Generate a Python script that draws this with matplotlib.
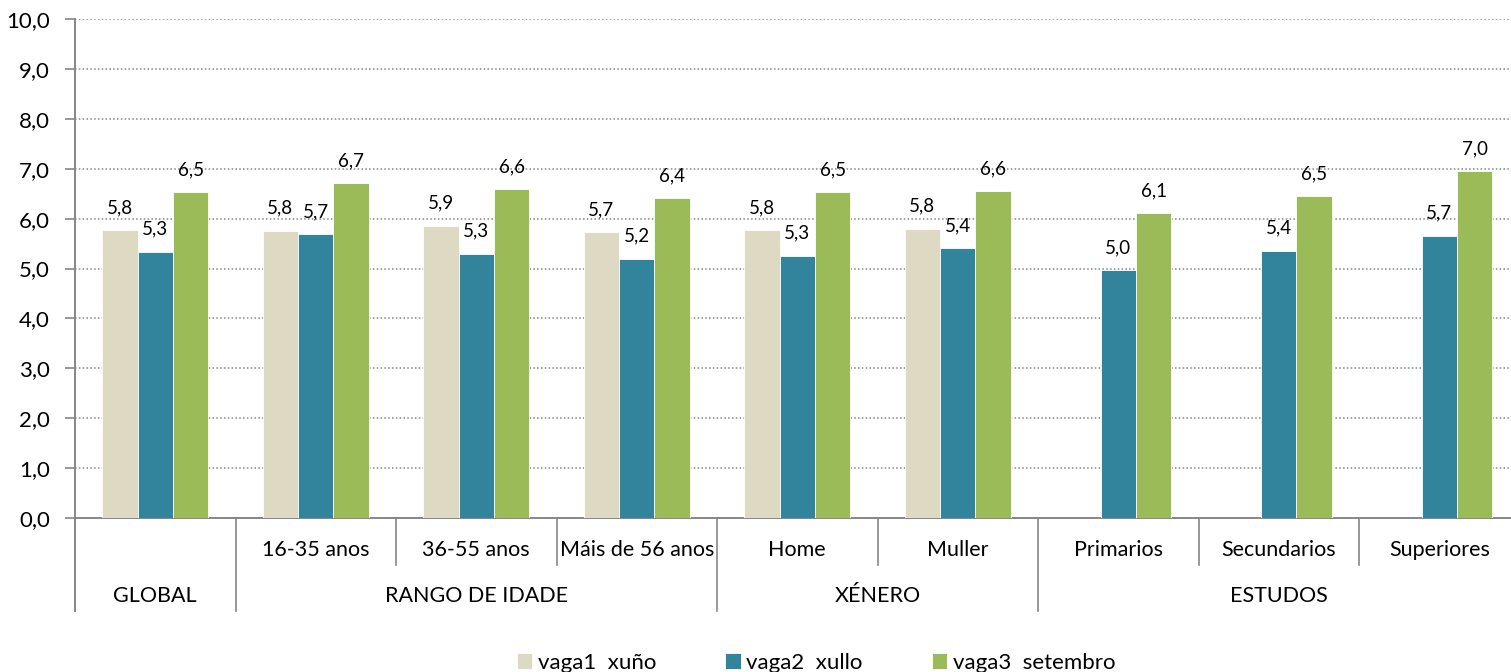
import matplotlib
matplotlib.use("Agg")
import matplotlib.pyplot as plt
import matplotlib.transforms as mtransforms
import numpy as np

# datos
categorias = ["", "16-35 anos", "36-55 anos", "Máis de 56 anos", "Home", "Muller",
              "Primarios", "Secundarios", "Superiores"]
grupos = ["GLOBAL", "RANGO DE IDADE", "XÉNERO", "ESTUDOS"]
grupo_inicio = [0, 1, 4, 6]
grupo_fin = [1, 4, 6, 9]

vaga1 = [5.77, 5.76, 5.86, 5.73, 5.77, 5.80, np.nan, np.nan, np.nan]
vaga2 = [5.34, 5.69, 5.30, 5.20, 5.26, 5.41, 4.97, 5.36, 5.66]
vaga3 = [6.54, 6.71, 6.59, 6.42, 6.54, 6.56, 6.11, 6.46, 6.96]
series = ["vaga1  xuño", "vaga2  xullo", "vaga3  setembro"]
cores = ["#DDD9C3", "#31849B", "#9BBB59"]

plt.rcParams['font.family'] = ['Lato', 'DejaVu Sans']
gris = "#868686"

fig = plt.figure(figsize=(15.11, 6.72), dpi=100)
ax = fig.add_axes([75 / 1511, 154 / 672, 1444.5 / 1511, 499 / 672])

x = np.arange(len(categorias))
w = 0.221
for i, (vals, nome, cor) in enumerate(zip([vaga1, vaga2, vaga3], series, cores)):
    pos = x + (i - 1) * w
    ax.bar(pos, vals, width=w, color=cor, label=nome, edgecolor="white", linewidth=0.6, zorder=3)
    for p, v in zip(pos, vals):
        if np.isnan(v):
            continue
        ax.annotate(("%.1f" % v).replace(".", ","), (p, v), xytext=(0, 16),
                    textcoords="offset points", ha="center", va="center", fontsize=13.5)

ax.set_ylim(0, 10)
ax.set_xlim(-0.5, len(categorias) - 0.5)
ax.set_yticks(np.arange(0, 11, 1))
ax.set_yticklabels([("%.1f" % t).replace(".", ",") for t in np.arange(0, 11, 1)], fontsize=16)
ax.yaxis.grid(True, linestyle=(0, (1, 1.5)), color=gris, linewidth=1.1, zorder=0)
ax.tick_params(axis="y", length=7, color=gris, width=1.2, pad=11)
ax.set_xticks([])

for s in ["top", "right"]:
    ax.spines[s].set_visible(False)
ax.spines["left"].set_color(gris)
ax.spines["left"].set_linewidth(1.4)
ax.spines["bottom"].set_color(gris)
ax.spines["bottom"].set_linewidth(1.4)

# eixo de categorías en dous niveis
trans = mtransforms.blended_transform_factory(ax.transData, ax.transAxes)
corto = -47 / 499
longo = -93 / 499
ax.plot([-0.5, -0.5], [0, longo], transform=trans, color=gris, lw=1.4, clip_on=False)
limites = [g - 0.5 for g in grupo_fin[:-1]]
for k in range(1, len(categorias)):
    b = k - 0.5
    y2 = longo if b in limites else corto
    ax.plot([b, b], [0, y2], transform=trans, color=gris, lw=1.2, clip_on=False)

for xi, cat in zip(x, categorias):
    ax.text(xi, -32 / 499, cat, transform=trans, ha="center", va="center", fontsize=15.5)
for nome, a, b in zip(grupos, grupo_inicio, grupo_fin):
    ax.text((a + b - 1) / 2, -78 / 499, nome, transform=trans, ha="center", va="center", fontsize=15.5)

fig.legend(loc="center", bbox_to_anchor=(0.54, 9 / 672), ncol=3, frameon=False, fontsize=16,
           handlelength=0.7, handleheight=0.7, handletextpad=0.25, columnspacing=3.1)

fig.savefig("out.png", dpi=100)
